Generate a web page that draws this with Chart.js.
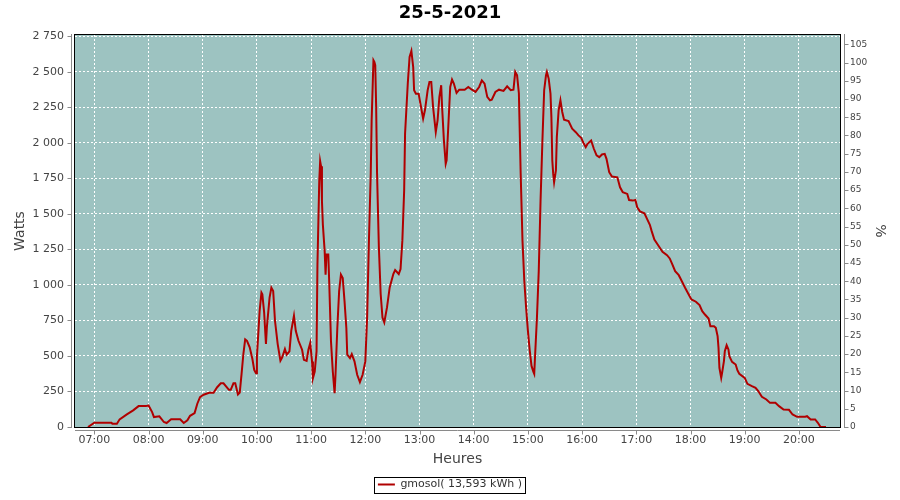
<!DOCTYPE html>
<html>
<head>
<meta charset="utf-8">
<script src="https://cdn.jsdelivr.net/npm/chart.js@4.4.0/dist/chart.umd.min.js"></script>
<style>
  html, body { margin: 0; padding: 0; background: #fff; }
</style>
</head>
<body>
<canvas id="solar-chart" width="900" height="500"></canvas>
<script>
// readings of the day (time of sample, power in W)
const times = [
  '06:53','07:00','07:19','07:20','07:25','07:28','07:36','07:43','07:49','07:57',
  '08:00','08:04','08:06','08:12','08:17','08:20','08:25','08:35','08:39','08:43',
  '08:46','08:51','08:54','08:57','09:01','09:07','09:12','09:16','09:20','09:23',
  '09:29','09:31','09:34','09:36','09:39','09:41','09:43','09:45','09:47','09:49',
  '09:52','09:55','09:57','09:59','10:00','10:03','10:05','10:06','10:08','10:10',
  '10:11','10:14','10:16','10:18','10:20','10:23','10:26','10:28','10:31','10:33',
  '10:36','10:38','10:41','10:43','10:46','10:50','10:52','10:55','10:57','10:59',
  '11:01','11:02','11:04','11:06','11:07','11:09','11:10','11:11','11:12','11:13',
  '11:15','11:16','11:17','11:19','11:20','11:22','11:24','11:26','11:27','11:29',
  '11:31','11:33','11:35','11:37','11:39','11:40','11:43','11:45','11:48','11:51',
  '11:54','11:57','12:00','12:02','12:04','12:06','12:07','12:09','12:10','12:11',
  '12:12','12:13','12:15','12:17','12:19','12:21','12:24','12:27','12:31','12:33',
  '12:37','12:39','12:41','12:43','12:44','12:47','12:49','12:51','12:53','12:54',
  '12:56','12:59','13:01','13:04','13:06','13:09','13:11','13:13','13:15','13:18',
  '13:20','13:22','13:24','13:25','13:27','13:29','13:30','13:32','13:34','13:36',
  '13:38','13:41','13:44','13:50','13:54','13:58','14:02','14:06','14:09','14:12',
  '14:15','14:18','14:20','14:24','14:28','14:33','14:37','14:41','14:44','14:46',
  '14:48','14:50','14:52','14:54','14:56','14:58','15:00','15:02','15:04','15:06',
  '15:07','15:08','15:10','15:12','15:14','15:16','15:18','15:20','15:21','15:23',
  '15:25','15:26','15:27','15:28','15:29','15:31','15:32','15:34','15:36','15:38',
  '15:40','15:45','15:49','15:53','15:56','15:59','16:01','16:04','16:06','16:10',
  '16:13','16:16','16:19','16:22','16:25','16:27','16:30','16:33','16:39','16:42',
  '16:45','16:50','16:52','16:56','16:59','17:01','17:04','17:09','17:12','17:15',
  '17:17','17:20','17:24','17:29','17:34','17:37','17:40','17:43','17:47','17:50',
  '17:54','17:58','18:01','18:06','18:10','18:13','18:16','18:20','18:22','18:26',
  '18:28','18:30','18:31','18:32','18:34','18:35','18:37','18:38','18:40','18:42',
  '18:43','18:46','18:50','18:52','18:54','19:00','19:03','19:08','19:12','19:15',
  '19:19','19:24','19:28','19:34','19:38','19:43','19:49','19:53','19:58','20:07',
  '20:09','20:13','20:18','20:21','20:24','20:30'
];
const watts = [
  0, 30, 30, 23, 23, 54, 89, 117, 147, 147,
  152, 105, 70, 75, 35, 28, 54, 54, 28, 47,
  79, 98, 164, 210, 227, 241, 241, 280, 308, 308,
  262, 262, 308, 308, 229, 243, 374, 514, 617, 607,
  561, 479, 402, 378, 495, 818, 946, 934, 806, 584,
  701, 911, 981, 958, 748, 584, 467, 491, 549, 509,
  533, 677, 783, 677, 607, 544, 473, 466, 544, 591,
  462, 344, 391, 532, 1143, 1731, 1872, 1836, 1590, 1425,
  1238, 1073, 1214, 1214, 1026, 603, 391, 238, 368, 697,
  955, 1073, 1049, 885, 697, 509, 485, 513, 462, 368,
  316, 368, 462, 771, 1312, 1783, 2159, 2582, 2570, 2547,
  2253, 1783, 1265, 936, 771, 736, 842, 983, 1077, 1105,
  1077, 1112, 1312, 1665, 2065, 2418, 2606, 2648, 2535, 2371,
  2347, 2347, 2277, 2171, 2230, 2371, 2429, 2429, 2253, 2077,
  2159, 2324, 2406, 2253, 2018, 1853, 1877, 2135, 2394, 2446,
  2418, 2352, 2375, 2375, 2394, 2375, 2359, 2394, 2441, 2418,
  2324, 2300, 2305, 2359, 2375, 2366, 2399, 2371, 2375, 2500,
  2476, 2350, 1783, 1312, 1030, 842, 677, 540, 430, 390,
  374, 511, 770, 1099, 1594, 2006, 2371, 2476, 2500, 2453,
  2347, 2182, 1876, 1782, 1723, 1806, 2041, 2229, 2300, 2218,
  2163, 2154, 2100, 2076, 2053, 2036, 2006, 1970, 1994, 2017,
  1959, 1912, 1900, 1919, 1923, 1888, 1794, 1763, 1758, 1688,
  1653, 1641, 1598, 1594, 1598, 1547, 1518, 1504, 1464, 1424,
  1379, 1320, 1281, 1234, 1210, 1187, 1144, 1097, 1069, 1032,
  980, 933, 898, 882, 858, 816, 792, 764, 710, 710,
  698, 640, 558, 417, 346, 382, 464, 534, 576, 546,
  499, 459, 440, 398, 375, 346, 304, 288, 276, 253,
  213, 194, 170, 170, 147, 123, 121, 88, 72, 72,
  76, 53, 53, 30, 0, 0
];
const hourLabels = ['07:00','08:00','09:00','10:00','11:00','12:00','13:00',
  '14:00','15:00','16:00','17:00','18:00','19:00','20:00'];
const wattTicks = [0, 250, 500, 750, 1000, 1250, 1500, 1750, 2000, 2250, 2500, 2750];
const pctTicks = [0, 5, 10, 15, 20, 25, 30, 35, 40, 45, 50, 55, 60, 65, 70, 75, 80, 85, 90, 95, 100, 105];

const plotBg = '#9dc3c1';
const axisGrey = '#8a8a8a';
const labelGrey = '#444444';

function toMin(t) {
  const p = t.split(':');
  return +p[0] * 60 + +p[1];
}
function fmtTime(m) {
  const h = Math.floor(m / 60), mm = Math.round(m % 60);
  return String(h).padStart(2, '0') + ':' + String(mm).padStart(2, '0');
}
function fmtThousands(v) {
  return String(v).replace(/\B(?=(\d{3})+(?!\d))/g, ' ');
}

// teal plot, black frame, axis lines set a little outside the plot
const plotFrame = {
  id: 'plotFrame',
  beforeDraw(chart) {
    const { ctx, chartArea: a } = chart;
    ctx.save();
    ctx.fillStyle = plotBg;
    ctx.fillRect(a.left, a.top, a.right - a.left, a.bottom - a.top);
    ctx.restore();
  },
  afterDatasetsDraw(chart) {
    const { ctx, chartArea: a, scales } = chart;
    ctx.save();
    ctx.lineWidth = 1;
    ctx.strokeStyle = '#000';
    ctx.strokeRect(a.left - 0.5, a.top - 0.5, a.right - a.left + 1, a.bottom - a.top + 1);

    ctx.strokeStyle = axisGrey;
    ctx.beginPath();
    const lx = a.left - 3.5, rx = a.right + 4.5, by = a.bottom + 3.5;
    ctx.moveTo(lx, a.top - 1); ctx.lineTo(lx, a.bottom + 1);
    ctx.moveTo(rx, a.top - 1); ctx.lineTo(rx, a.bottom + 1);
    ctx.moveTo(a.left, by); ctx.lineTo(a.right, by);
    scales.y.ticks.forEach(t => {
      const py = Math.round(scales.y.getPixelForValue(t.value)) + 0.5;
      ctx.moveTo(lx - 4, py); ctx.lineTo(lx, py);
    });
    scales.y1.ticks.forEach(t => {
      const py = Math.round(scales.y1.getPixelForValue(t.value)) + 0.5;
      ctx.moveTo(rx, py); ctx.lineTo(rx + 4, py);
    });
    scales.x.ticks.forEach(t => {
      const px = Math.round(scales.x.getPixelForValue(t.value)) + 0.5;
      ctx.moveTo(px, by); ctx.lineTo(px, by + 4);
    });
    ctx.stroke();
    ctx.restore();
  },
  afterDraw(chart) {
    const hb = chart.legend && chart.legend.legendHitBoxes[0];
    if (!hb) return;
    const ctx = chart.ctx;
    ctx.save();
    ctx.strokeStyle = '#000';
    ctx.lineWidth = 1;
    const cy = hb.top + hb.height / 2;
    ctx.strokeRect(Math.round(hb.left - 4) + 0.5, Math.round(cy - 8) + 0.5,
      Math.round(hb.width + 7), 16);
    ctx.restore();
  }
};

Chart.defaults.font.family = 'DejaVu Sans';

new Chart(document.getElementById('solar-chart'), {
  type: 'line',
  data: {
    datasets: [{
      label: 'gmosol( 13,593 kWh )',
      data: times.map((t, i) => ({ x: toMin(t), y: watts[i] })),
      borderColor: '#b00000',
      backgroundColor: '#b00000',
      borderWidth: 2,
      pointRadius: 0,
      tension: 0,
      yAxisID: 'y'
    }]
  },
  options: {
    responsive: false,
    animation: false,
    devicePixelRatio: 1,
    layout: { padding: 0 },
    plugins: {
      title: {
        display: true,
        text: '25-5-2021',
        color: '#000',
        font: { size: 18, weight: 'bold' },
        padding: { top: 2.5, bottom: 10.9 }
      },
      legend: {
        position: 'bottom',
        labels: {
          usePointStyle: true,
          pointStyle: 'line',
          pointStyleWidth: 17,
          color: '#333',
          font: { size: 11 },
          padding: 10
        }
      },
      tooltip: { enabled: false }
    },
    scales: {
      x: {
        type: 'linear',
        position: 'bottom',
        min: 398.6,
        max: 1245.5,
        afterBuildTicks: s => { s.ticks = hourLabels.map(h => ({ value: toMin(h) })); },
        afterFit: s => { s.height = 42; },
        ticks: {
          callback: v => fmtTime(v),
          color: labelGrey,
          font: { size: 11 },
          padding: 7,
          maxRotation: 0,
          autoSkip: false
        },
        grid: { color: '#ffffff', lineWidth: 1, drawTicks: false },
        border: { display: false, dash: [2, 2] },
        title: {
          display: true,
          text: 'Heures',
          color: labelGrey,
          font: { size: 14 },
          padding: { top: 0, bottom: 1 }
        }
      },
      y: {
        position: 'left',
        min: 0,
        max: 2760,
        afterBuildTicks: s => { s.ticks = wattTicks.map(v => ({ value: v })); },
        afterFit: s => { s.width = 75; },
        ticks: {
          callback: v => fmtThousands(v),
          color: labelGrey,
          font: { size: 11 },
          padding: 11
        },
        grid: { color: '#ffffff', lineWidth: 1, drawTicks: false },
        border: { display: false, dash: [2, 2] },
        title: {
          display: true,
          text: 'Watts',
          color: labelGrey,
          font: { size: 14 },
          padding: { top: 11.6, bottom: 0 }
        }
      },
      y1: {
        position: 'right',
        min: 0,
        max: 107.55,
        afterBuildTicks: s => { s.ticks = pctTicks.map(v => ({ value: v })); },
        afterFit: s => { s.width = 60; },
        ticks: {
          color: labelGrey,
          font: { size: 9 },
          padding: 10
        },
        grid: { drawOnChartArea: false, drawTicks: false },
        border: { display: false },
        title: {
          display: true,
          text: '%',
          color: labelGrey,
          font: { size: 14 },
          padding: { top: 11.6, bottom: 0 }
        }
      }
    }
  },
  plugins: [plotFrame]
});
</script>
</body>
</html>
